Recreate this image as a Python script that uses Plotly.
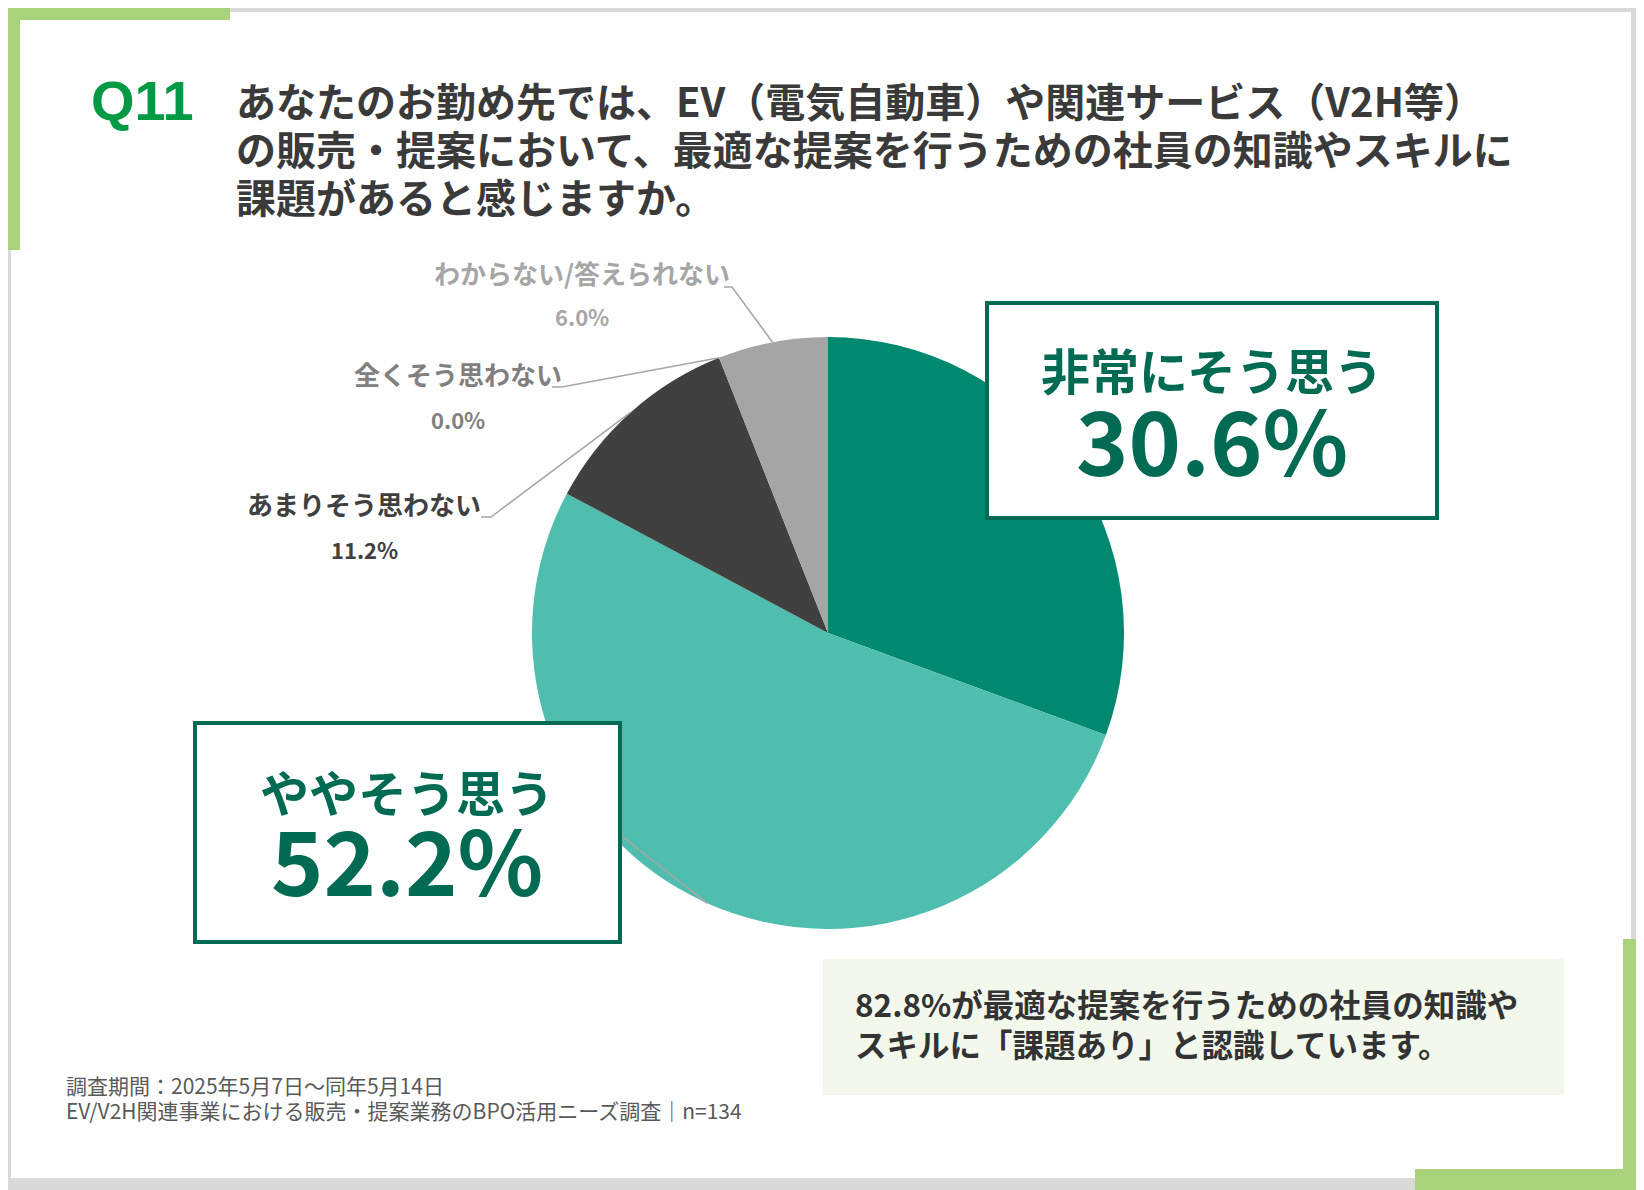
import math
import plotly.graph_objects as go

# survey answers, clockwise from 12 o'clock
labels = ["非常にそう思う", "ややそう思う", "あまりそう思わない", "全くそう思わない", "わからない/答えられない"]
values = [30.6, 52.2, 11.2, 0.0, 6.0]
colors = ["#00896F", "#50BEAE", "#404040", "#C8C8C8", "#A5A5A5"]

title_lines = [
    "あなたのお勤め先では、EV（電気自動車）や関連サービス（V2H等）",
    "の販売・提案において、最適な提案を行うための社員の知識やスキルに",
    "課題があると感じますか。",
]
note_lines = [
    "82.8%が最適な提案を行うための社員の知識や",
    "スキルに「課題あり」と認識しています。",
]
footer_lines = [
    "調査期間：2025年5月7日～同年5月14日",
    "EV/V2H関連事業における販売・提案業務のBPO活用ニーズ調査｜n=134",
]

W, H = 1644, 1190
OFF = 8  # page body margin, compensated so the picture lines up
JP = "Noto Sans CJK JP"
GREEN = "#006A52"
LIME = "#A8D37B"


def fx(x):
    return (x - OFF) / W


def fy(y):
    return 1 - (y - OFF) / H


# pie geometry in pixels
CX, CY, R = 828, 633, 296


def edge_point(i):
    total = sum(values)
    frac = (sum(values[:i]) + values[i] / 2) / total
    a = 2 * math.pi * frac
    return CX + R * math.sin(a), CY - R * math.cos(a)


fig = go.Figure(go.Pie(
    labels=labels,
    values=values,
    sort=False,
    direction="clockwise",
    rotation=0,
    marker=dict(colors=colors, line=dict(width=0)),
    textinfo="none",
    hoverinfo="label+percent",
    showlegend=False,
    domain=dict(x=[fx(CX - R), fx(CX + R)], y=[fy(CY + R), fy(CY - R)]),
))

shapes = []


def rect(x0, y0, x1, y1, fill, layer="below", lc=None, lw=0):
    shapes.append(dict(type="rect", xref="paper", yref="paper",
                       x0=fx(x0), y0=fy(y0), x1=fx(x1), y1=fy(y1),
                       fillcolor=fill, layer=layer,
                       line=dict(color=lc or fill, width=lw)))


# frame
rect(11, 12, 1631, 1178, "white")
rect(0, 0, 20, 250, LIME)
rect(0, 0, 230, 20, LIME)
rect(1623, 939, 1652, 1198, LIME)
rect(1415, 1169, 1652, 1198, LIME)

# leader lines to the small labels
stubs = {4: (724, 732, 287), 3: (552, 562, 387), 2: (481, 491, 517)}
for i, (sx0, sx1, sy) in stubs.items():
    ex, ey = edge_point(i)
    shapes.append(dict(type="path", xref="paper", yref="paper", layer="above",
                       path=f"M {fx(sx0)} {fy(sy)} L {fx(sx1)} {fy(sy)} L {fx(ex)} {fy(ey)}",
                       line=dict(color="#A6A6A6", width=1.5)))
ex, ey = edge_point(1)
shapes.append(dict(type="line", xref="paper", yref="paper", layer="above",
                   x0=fx(600), y0=fy(819), x1=fx(ex), y1=fy(ey),
                   line=dict(color="#A6A6A6", width=1.5)))

# callout boxes
rect(987, 303, 1437, 518, "white", layer="above", lc=GREEN, lw=4)
rect(195, 723, 620, 942, "white", layer="above", lc=GREEN, lw=4)
rect(823, 959, 1564, 1095, "#F2F8EC")

ann = []


def text(x, y, s, size, color, weight=700, anchor="center", family=JP):
    ann.append(dict(xref="paper", yref="paper", x=fx(x), y=fy(y), text=s,
                    showarrow=False, xanchor=anchor, yanchor="middle",
                    font=dict(family=family, size=size, color=color, weight=weight)))


text(89, 101, "Q11", 56, "#009944", anchor="left", family="Liberation Sans")
for k, line in enumerate(title_lines):
    text(234, 100 + 48 * k, line, 40, "#3A3A3A", anchor="left")

# small outside labels
small = {4: (582, 272, 316, "#A6A6A6"), 3: (458, 373, 419, "#808080"), 2: (364, 503, 549, "#404040")}
for i, (lx, ny, py, col) in small.items():
    text(lx, ny, labels[i], 26, col)
    text(lx, py, f"{values[i]:.1f}%", 22, col)

# big callouts
text(1212, 368, labels[0], 49, GREEN)
text(1212, 437, f"{values[0]:.1f}%", 89, GREEN)
text(407, 790, labels[1], 49, GREEN)
text(407, 857, f"{values[1]:.1f}%", 89, GREEN)

for k, line in enumerate(note_lines):
    text(853, 1003 + 40 * k, line, 31.5, "#333333", anchor="left")

for k, line in enumerate(footer_lines):
    text(64, 1085 + 25 * k, line, 21, "#595959", weight=400, anchor="left")

fig.update_layout(
    width=W, height=H,
    margin=dict(l=0, r=0, t=0, b=0),
    paper_bgcolor="#D9D9D9",
    plot_bgcolor="#D9D9D9",
    shapes=shapes,
    annotations=ann,
)

fig.write_html("out.html", config={"displayModeBar": False})
